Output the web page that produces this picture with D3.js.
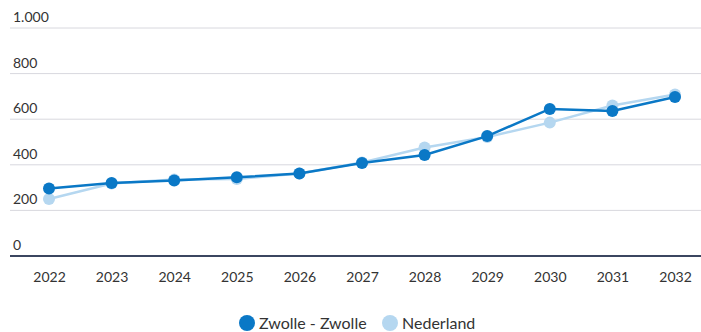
<!DOCTYPE html>
<html><head><meta charset="utf-8">
<script src="https://cdn.jsdelivr.net/npm/d3@7"></script>
<style>body{margin:0;background:#fff;} svg{display:block;font-family:Lato,"Open Sans",sans-serif;}</style>
</head><body>
<svg id="c" width="701" height="332"></svg>
<script>
const years = ["2022","2023","2024","2025","2026","2027","2028","2029","2030","2031","2032"];
const zwolle = [296, 320, 331, 345, 362, 408, 443, 526, 645, 636, 697];
const nederland = [250, 318, 335, 338, 362, 410, 476, 522, 585, 660, 708];
const seriesNames = ["Zwolle - Zwolle", "Nederland"];
const yTicks = [0, 200, 400, 600, 800, 1000];

const svg = d3.select("#c");
const W = 701, H = 332;
const x = d3.scalePoint().domain(years).range([49, 675]);
const y = d3.scaleLinear().domain([0, 1000]).range([256, 28]);
const fmt = v => d3.format(",")(v).replace(/,/g, ".");

// gridlines
const g = svg.append("g");
g.selectAll("line.grid").data(yTicks.filter(d => d > 0)).join("line")
  .attr("x1", 10).attr("x2", W).attr("y1", d => y(d)).attr("y2", d => y(d))
  .attr("stroke", "#d8d8de").attr("stroke-width", 1);
g.selectAll("text.yl").data(yTicks).join("text")
  .attr("x", 13).attr("y", d => y(d) - 6)
  .attr("font-size", 14).attr("fill", "#333")
  .text(fmt);
// x axis line
svg.append("line").attr("x1", 10).attr("x2", W).attr("y1", y(0)).attr("y2", y(0))
  .attr("stroke", "#3b4660").attr("stroke-width", 2);
// x labels
const xa = d3.axisBottom(x).tickSize(0).tickPadding(0);
const xg = svg.append("g").attr("transform", `translate(0,${y(0) + 26})`).call(xa);
xg.select(".domain").remove();
xg.selectAll("text").attr("font-size", 14).attr("fill", "#333").attr("font-family", "Lato,'Open Sans',sans-serif").attr("dy", 0);

const colors = ["#0a78c6", "#b5d7f0"];
const data = [zwolle, nederland];
const line = d3.line().x((d, i) => x(years[i])).y(d => y(d));
// draw light first, then dark
[1, 0].forEach(k => {
  svg.append("path").datum(data[k]).attr("d", line)
    .attr("fill", "none").attr("stroke", colors[k]).attr("stroke-width", 2.5);
  svg.selectAll(null).data(data[k]).join("circle")
    .attr("cx", (d, i) => x(years[i])).attr("cy", d => y(d)).attr("r", 6)
    .attr("fill", colors[k]);
});

// legend
const leg = [{x: 247, name: seriesNames[0], c: colors[0]}, {x: 390, name: seriesNames[1], c: colors[1]}];
leg.forEach(l => {
  svg.append("circle").attr("cx", l.x).attr("cy", 323).attr("r", 8).attr("fill", l.c);
  svg.append("text").attr("x", l.x + 12).attr("y", 329).attr("font-size", 16).attr("fill", "#333").text(l.name);
});
</script>
</body></html>
